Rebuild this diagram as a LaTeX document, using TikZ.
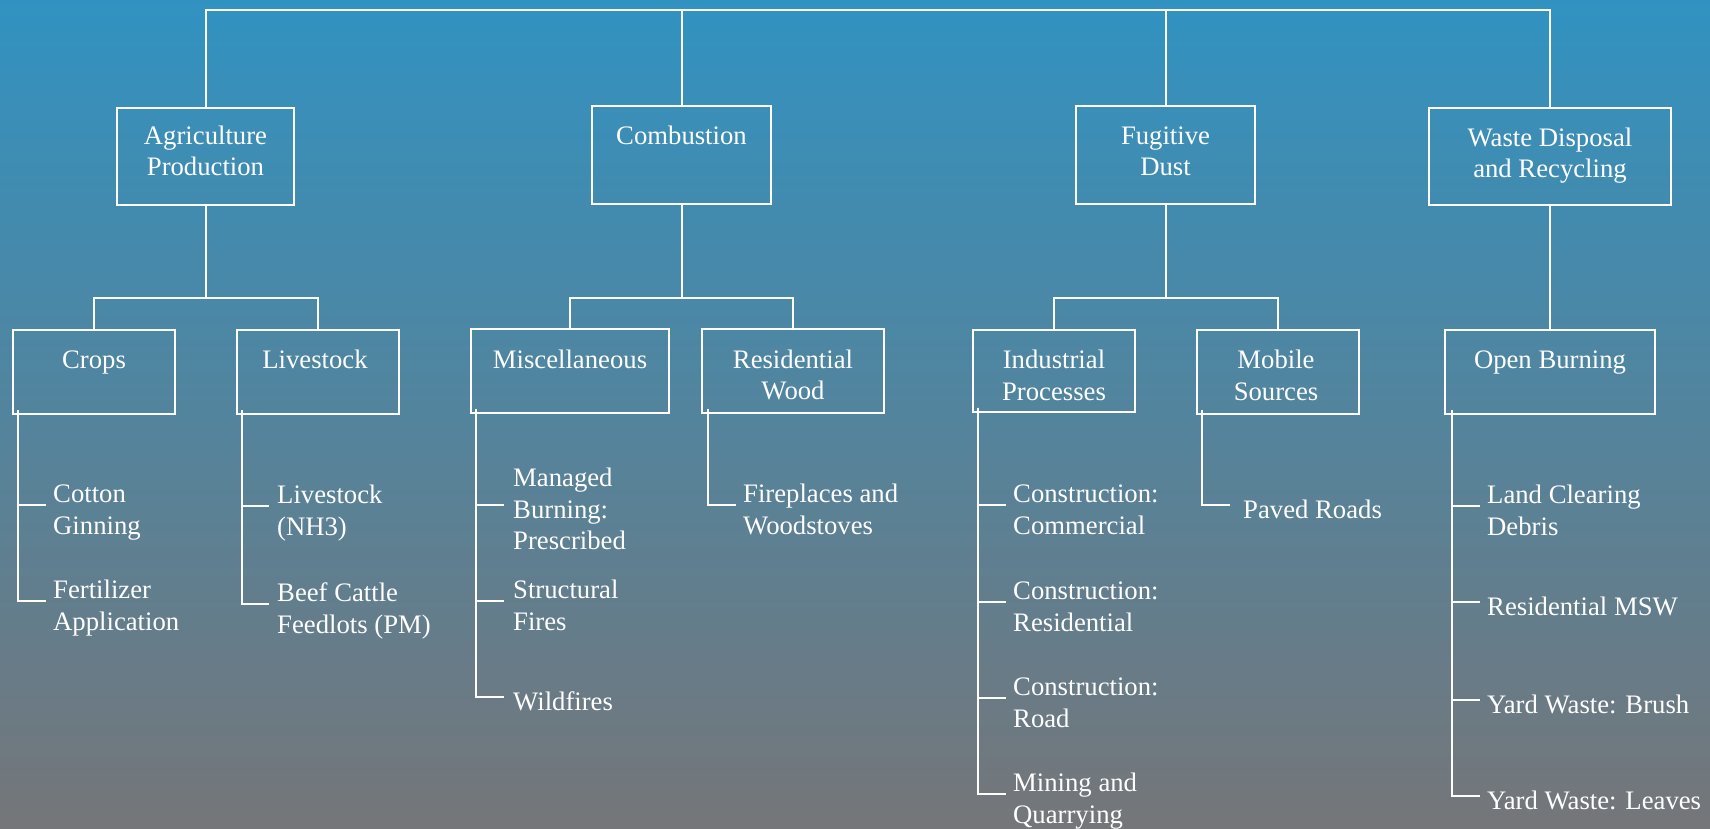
\documentclass[tikz,border=0pt]{standalone}
\usepackage{fontspec}
\setmainfont{Liberation Serif}
\usetikzlibrary{calc}
\definecolor{bgtop}{RGB}{49,146,193}
\definecolor{bgmid}{RGB}{88,135,166}
\definecolor{bgbot}{RGB}{117,118,121}
\begin{document}
\begin{tikzpicture}[x=1pt,y=-1pt,
 conn/.style={draw=white,line width=2pt},
 box/.style={draw=white,line width=2pt,rectangle,inner sep=0pt},
 lbl/.style={text=white,font=\fontsize{26.7}{31.5}\selectfont,inner sep=0pt,align=center,anchor=north},
 leaf/.style={text=white,font=\fontsize{26.7}{31.5}\selectfont,inner sep=0pt,align=left,anchor=west}]
\useasboundingbox (0,0) rectangle (1710,828);
\shade[top color=bgtop, middle color=bgmid, bottom color=bgbot] (0,0) rectangle (1710,828);

% level 1 boxes
\node[box,minimum width=177pt,minimum height=97pt] (agri) at (205.5,156.5) {};
\node[box,minimum width=179pt,minimum height=98pt] (comb) at (681.5,155) {};
\node[box,minimum width=179pt,minimum height=98pt] (fug) at (1165.5,155) {};
\node[box,minimum width=242pt,minimum height=97pt] (waste) at (1550,156.5) {};
\node[lbl] (agriT) at ($(agri.north)+(0,15)$) {\strut Agriculture\\\strut Production};
\node[lbl] (combT) at ($(comb.north)+(0,17)$) {\strut Combustion};
\node[lbl] (fugT) at ($(fug.north)+(0,17)$) {\strut Fugitive\\\strut Dust};
\node[lbl] (wasteT) at ($(waste.north)+(0,17)$) {\strut Waste Disposal\\\strut and Recycling};

% level 2 boxes
\node[box,minimum width=162pt,minimum height=84pt] (crops) at (94,372) {};
\node[box,minimum width=162pt,minimum height=84pt] (live) at (318,372) {};
\node[box,minimum width=198pt,minimum height=84pt] (misc) at (570,371) {};
\node[box,minimum width=182pt,minimum height=84pt] (rwood) at (793,371) {};
\node[box,minimum width=162pt,minimum height=82pt] (indus) at (1054,370.7) {};
\node[box,minimum width=162pt,minimum height=84pt] (mobile) at (1278,371.5) {};
\node[box,minimum width=210pt,minimum height=84pt] (openb) at (1550,372) {};
\node[lbl] (cropsT) at ($(crops.north)+(0,17)$) {\strut Crops};
\node[lbl] (liveT) at ($(live.north)+(-3,17)$) {\strut Livestock};
\node[lbl] (miscT) at ($(misc.north)+(0,18)$) {\strut Miscellaneous};
\node[lbl] (rwoodT) at ($(rwood.north)+(0,18)$) {\strut Residential\\\strut Wood};
\node[lbl] (indusT) at ($(indus.north)+(0,18)$) {\strut Industrial\\\strut Processes};
\node[lbl] (mobileT) at ($(mobile.north)+(-2,18)$) {\strut Mobile\\\strut Sources};
\node[lbl] (openbT) at ($(openb.north)+(0,17)$) {\strut Open Burning};

% top connectors
\coordinate (top) at (0,10);
\draw[conn] (agri.north) -- (agri.north |- top) -- (waste.north |- top) -- (waste.north);
\draw[conn] (comb.north) -- (comb.north |- top);
\draw[conn] (fug.north) -- (fug.north |- top);

% level 1 to level 2
\coordinate (jn) at (0,297.5);
\draw[conn] (agri.south) -- (agri.south |- jn);
\draw[conn] (crops.north) -- (crops.north |- jn) -- (live.north |- jn) -- (live.north);
\draw[conn] (comb.south) -- (comb.south |- jn);
\draw[conn] (misc.north) -- (misc.north |- jn) -- (rwood.north |- jn) -- (rwood.north);
\draw[conn] (fug.south) -- (fug.south |- jn);
\draw[conn] (indus.north) -- (indus.north |- jn) -- (mobile.north |- jn) -- (mobile.north);
\draw[conn] (waste.south) -- (openb.north);

% leaves
\node[leaf] (cotton) at (53,512) {\strut Cotton\\\strut Ginning};
\node[leaf] (fert) at (53,608) {\strut Fertilizer\\\strut Application};
\node[leaf] (lnh3) at (277,513) {\strut Livestock\\\strut (NH3)};
\node[leaf] (beef) at (277,611) {\strut Beef Cattle\\\strut Feedlots (PM)};
\node[leaf] (managed) at (513,512) {\strut Managed\\\strut Burning:\\\strut Prescribed};
\node[leaf] (struct) at (513,608) {\strut Structural\\\strut Fires};
\node[leaf] (wildf) at (513,704) {\strut Wildfires};
\node[leaf] (firep) at (743,512) {\strut Fireplaces and\\\strut Woodstoves};
\node[leaf] (ccom) at (1013,512) {\strut Construction:\\\strut Commercial};
\node[leaf] (cres) at (1013,609) {\strut Construction:\\\strut Residential};
\node[leaf] (croad) at (1013,705) {\strut Construction:\\\strut Road};
\node[leaf] (mining) at (1013,801) {\strut Mining and\\\strut Quarrying};
\node[leaf] (paved) at (1243,512) {\strut Paved Roads};
\node[leaf] (landc) at (1487,513) {\strut Land Clearing\\\strut Debris};
\node[leaf] (resmsw) at (1487,609) {\strut Residential MSW};
\node[leaf] (ybrush) at (1487,707) {\strut Yard Waste: Brush};
\node[leaf] (yleaves) at (1487,803) {\strut Yard Waste: Leaves};

\coordinate (crT) at ($(crops.south west)+(6,-5)$);
\coordinate (liT) at ($(live.south west)+(6,-5)$);
\coordinate (miT) at ($(misc.south west)+(6,-5)$);
\coordinate (rwT) at ($(rwood.south west)+(7,-5)$);
\coordinate (inT) at ($(indus.south west)+(6,-5)$);
\coordinate (moT) at ($(mobile.south west)+(6,-5)$);
\coordinate (obT) at ($(openb.south west)+(8,-5)$);

\draw[conn] (crT) |- ($(cotton.west)+(-7,-7)$);
\draw[conn] (crT) |- ($(fert.west)+(-7,-7)$);
\draw[conn] (liT) |- ($(lnh3.west)+(-8,-7)$);
\draw[conn] (liT) |- ($(beef.west)+(-8,-7)$);
\draw[conn] (miT) |- ($(managed.west)+(-9,-7)$);
\draw[conn] (miT) |- ($(struct.west)+(-9,-7)$);
\draw[conn] (miT) |- ($(wildf.west)+(-9,-7)$);
\draw[conn] (rwT) |- ($(firep.west)+(-7,-7)$);
\draw[conn] (inT) |- ($(ccom.west)+(-7,-7)$);
\draw[conn] (inT) |- ($(cres.west)+(-7,-7)$);
\draw[conn] (inT) |- ($(croad.west)+(-7,-7)$);
\draw[conn] (inT) |- ($(mining.west)+(-7,-7)$);
\draw[conn] (moT) |- ($(paved.west)+(-13,-7)$);
\draw[conn] (obT) |- ($(landc.west)+(-7,-7)$);
\draw[conn] (obT) |- ($(resmsw.west)+(-7,-7)$);
\draw[conn] (obT) |- ($(ybrush.west)+(-7,-7)$);
\draw[conn] (obT) |- ($(yleaves.west)+(-7,-7)$);
\end{tikzpicture}
\end{document}
